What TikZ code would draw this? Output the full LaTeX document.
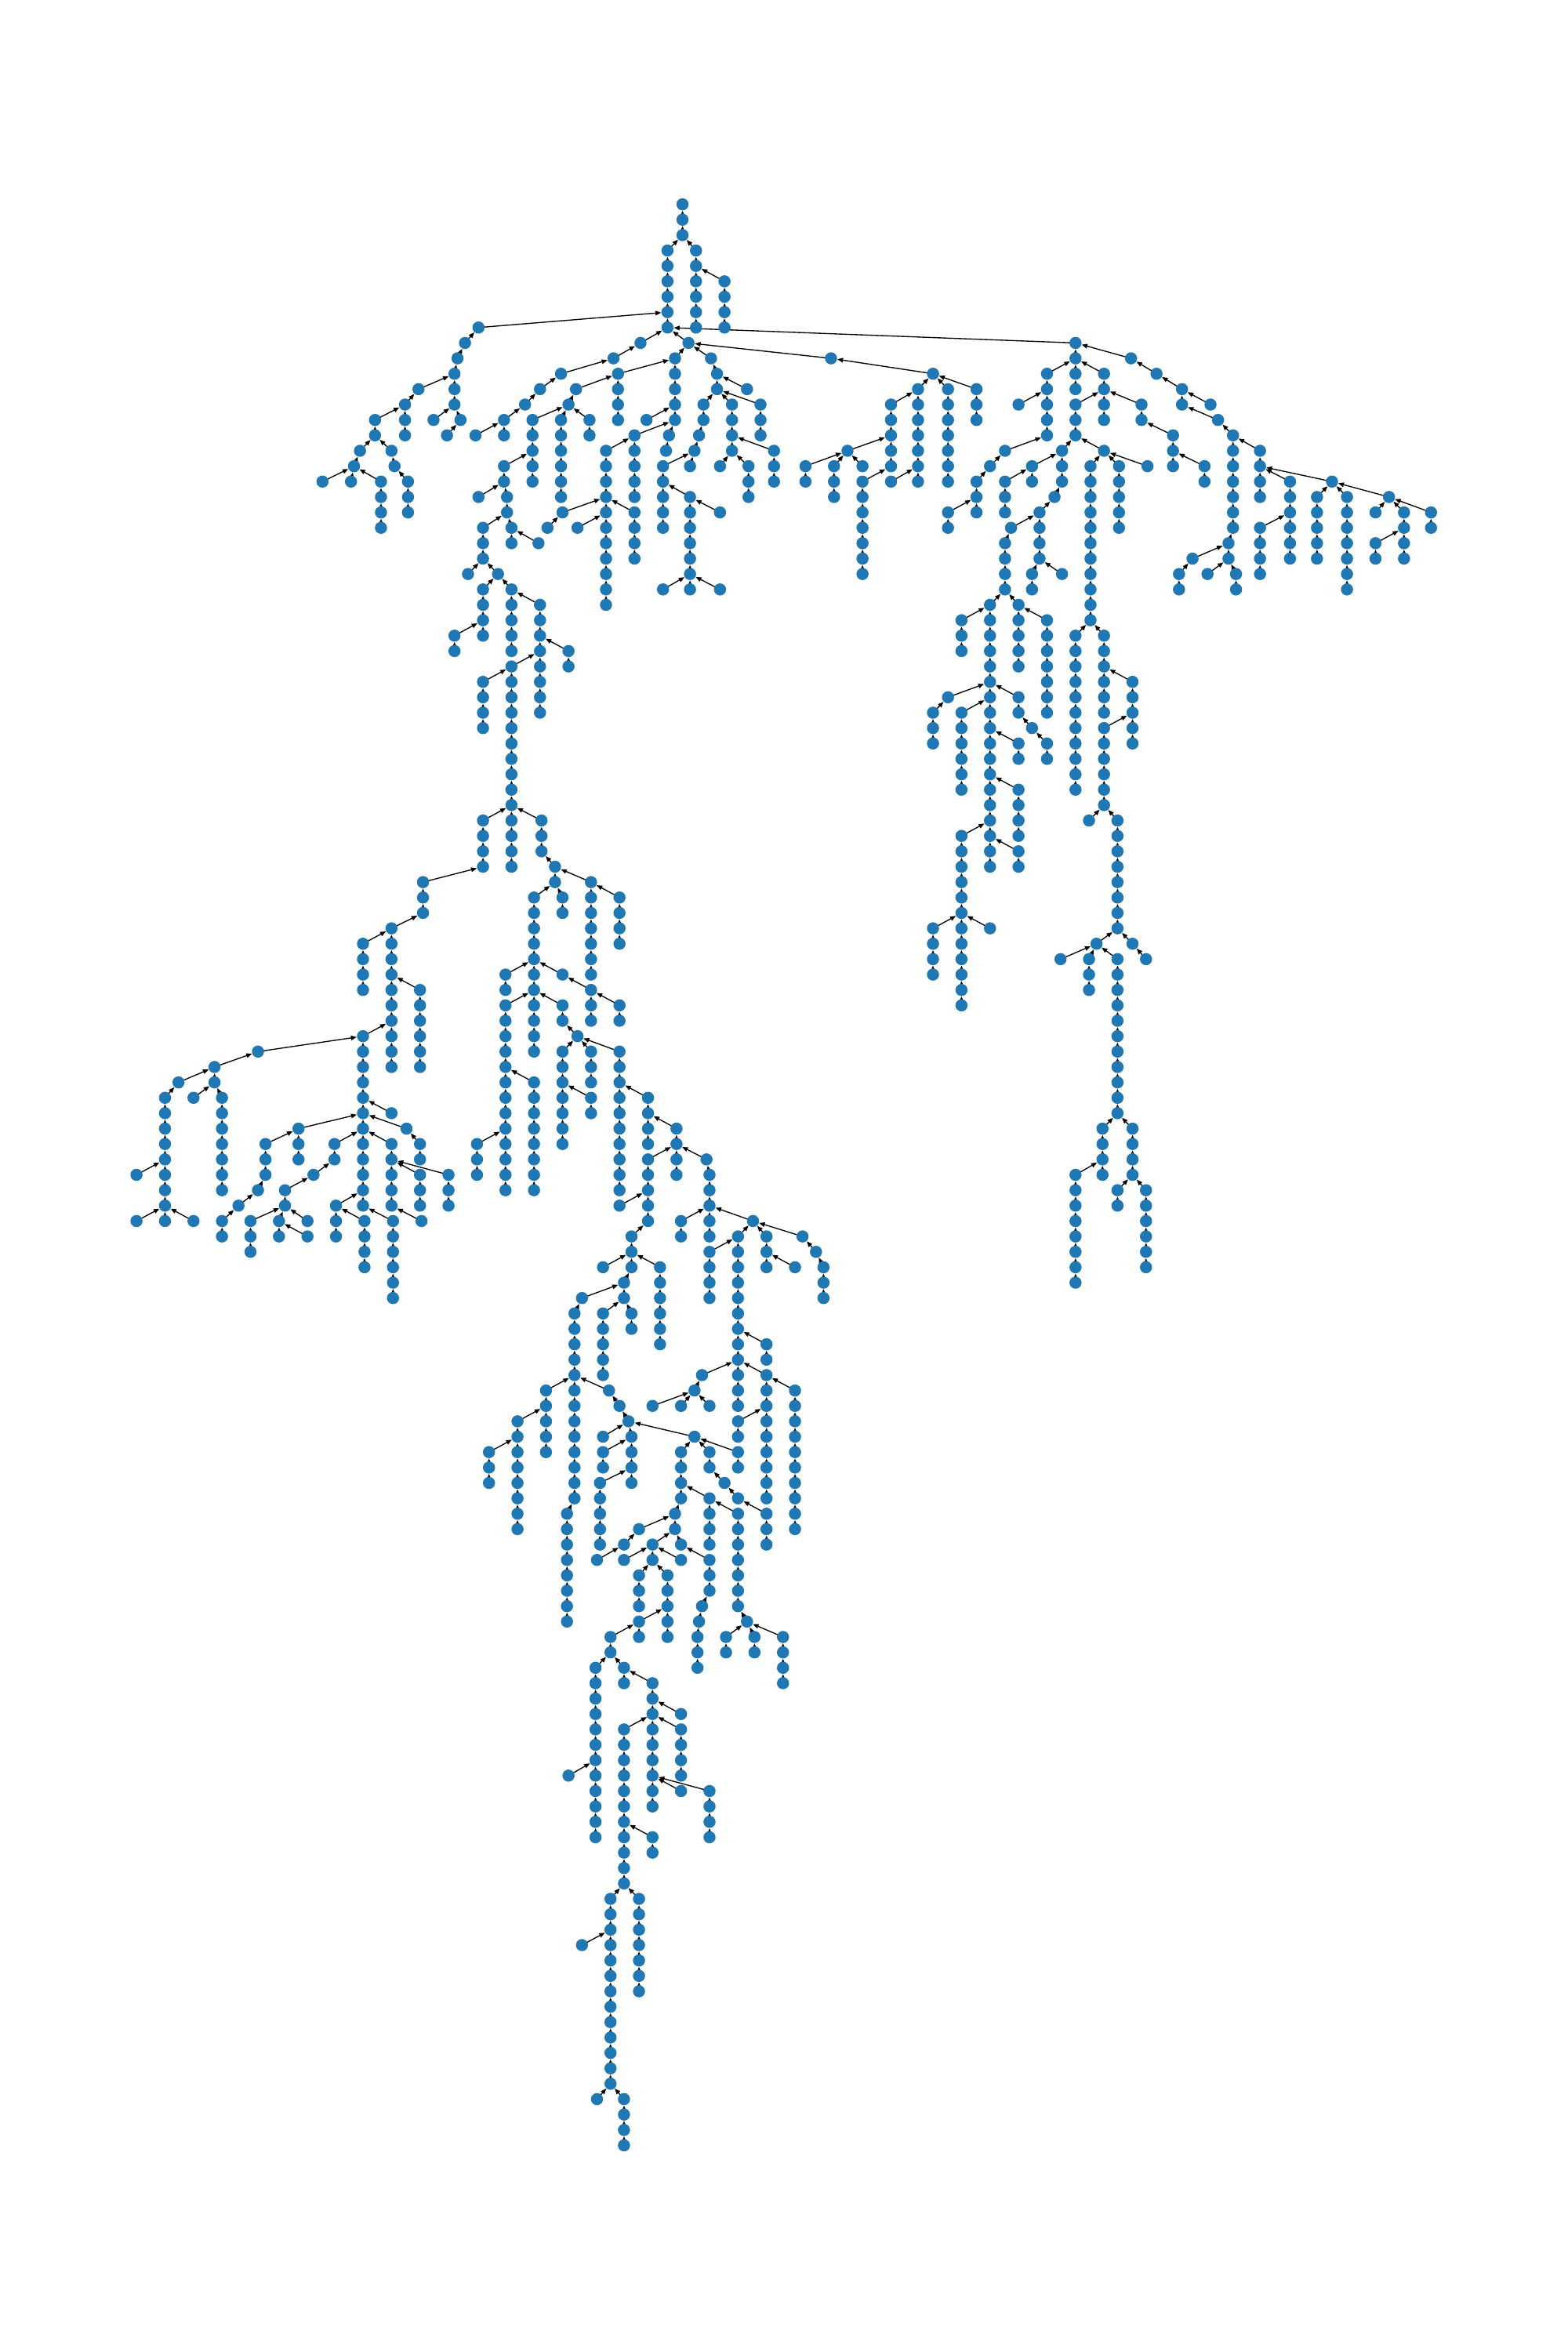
\documentclass[tikz,border=0pt]{standalone}
\usetikzlibrary{arrows.meta}
\definecolor{tabblue}{HTML}{1F77B4}
\pgfdeclarelayer{edges}
\pgfsetlayers{edges,main}
\tikzset{
  nd/.style={circle,fill=tabblue,draw=none,inner sep=0pt,minimum size=8.1pt},
  ar/.style={-{Triangle[length=3.8pt,width=3pt]},line width=0.7pt,black}
}
% x / first rank / last rank / parent x / parent rank
\def\chains{455/0/2/0/0,
445/3/8/455/2,
464/3/8/455/2,
483/5/8/464/4,
319/8/8/445/7,
310/9/9/319/8,
305/10/10/310/9,
303/11/13/305/10,
307/14/14/303/13,
298/15/15/307/14,
289/14/14/303/13,
279/12/12/303/11,
270/13/15/279/12,
250/14/15/270/13,
240/16/16/250/15,
261/16/16/250/15,
236/17/17/240/16,
263/17/17/261/16,
215/18/18/236/17,
234/18/18/236/17,
254/18/21/236/17,
272/18/20/263/17,
427/9/9/445/8,
409/10/10/427/9,
374/11/11/409/10,
360/12/12/374/11,
350/13/13/360/12,
336/14/15/350/13,
317/15/15/336/14,
459/9/9/445/8,
450/10/14/459/9,
446/15/15/450/14,
444/16/16/446/15,
474/10/10/459/9,
412/11/14/450/10,
384/12/12/412/11,
379/13/13/384/12,
355/14/18/379/13,
374/14/19/379/13,
393/14/15/379/13,
431/14/14/450/13,
423/15/19/450/14,
404/16/26/423/15,
423/20/23/404/19,
375/20/20/404/19,
365/21/21/375/20,
385/21/21/404/20,
336/17/18/355/16,
319/19/19/336/18,
338/19/20/336/18,
322/21/23/338/20,
341/21/22/338/20,
359/22/22/341/21,
312/24/24/322/23,
332/24/24/322/23,
322/25/28/332/24,
341/25/29/332/24,
360/26/33/341/25,
303/28/29/322/27,
379/29/30/360/28,
341/30/43/360/29,
322/31/34/341/30,
478/11/12/474/10,
498/12/12/478/11,
469/13/14/478/12,
488/13/16/478/12,
507/13/15/478/12,
466/15/15/469/14,
463/16/16/466/15,
516/16/18/488/15,
480/17/17/488/16,
499/17/19/488/16,
442/17/21/463/16,
460/17/17/463/16,
460/19/25/442/18,
480/20/20/460/19,
442/25/25/460/24,
480/25/25/460/24,
322/40/43/341/39,
361/40/42/341/39,
370/43/44/361/42,
394/44/50/370/43,
413/45/48/394/44,
356/45/55/370/44,
375/45/46/370/44,
337/50/51/356/49,
375/50/50/356/49,
394/51/53/375/50,
413/52/53/394/51,
337/52/64/356/51,
375/52/53/356/51,
385/54/54/375/53,
375/55/61/385/54,
394/55/57/385/54,
394/58/59/375/57,
413/55/64/385/54,
356/57/64/337/56,
318/61/63/337/60,
432/58/61/413/57,
451/60/63/432/59,
432/62/66/451/61,
413/65/65/432/64,
471/62/62/451/61,
473/63/67/471/62,
454/66/67/473/65,
502/66/66/473/65,
492/67/78/502/66,
511/67/69/502/66,
530/69/69/511/68,
535/67/67/502/66,
544/68/68/535/67,
549/69/71/544/68,
473/68/71/492/67,
421/67/69/432/66,
402/69/69/421/68,
440/69/74/421/68,
416/70/71/421/69,
388/71/71/416/70,
383/72/84/388/71,
402/72/76/416/71,
421/72/73/416/71,
511/74/75/492/73,
511/76/84/492/75,
468/76/76/492/75,
530/77/86/511/76,
463/77/77/468/76,
435/78/78/463/77,
454/78/78/463/77,
473/78/78/463/77,
492/79/80/511/78,
364/77/81/383/76,
406/77/77/383/76,
413/78/78/406/77,
419/79/79/413/78,
345/79/86/364/78,
326/81/83/345/80,
402/80/80/419/79,
421/80/83/419/79,
463/80/80/419/79,
402/81/82/421/80,
400/83/87/421/82,
492/81/82/463/80,
454/81/84/463/80,
473/81/82/463/80,
483/83/83/473/82,
492/84/84/483/83,
511/85/87/492/84,
473/84/87/454/83,
492/85/91/473/84,
498/92/92/492/91,
484/93/94/498/92,
503/93/94/498/92,
522/93/96/498/92,
450/85/86/454/84,
426/86/86/450/85,
416/87/87/426/86,
435/87/88/450/86,
454/87/87/450/86,
473/88/90/454/87,
468/91/91/473/90,
466/92/92/468/91,
465/93/95/466/92,
398/88/88/416/87,
416/88/88/435/87,
454/88/88/435/87,
426/89/91/435/88,
445/89/93/435/88,
426/92/93/445/91,
407/93/94/426/92,
378/85/92/383/84,
397/95/106/407/94,
416/95/96/407/94,
435/96/104/416/95,
454/98/98/435/97,
454/99/102/435/98,
416/99/109/435/98,
454/103/103/435/102,
473/103/106/435/102,
435/106/107/416/105,
379/102/102/397/101,
407/110/122/416/109,
426/110/116/416/109,
388/113/113/407/112,
398/123/123/407/122,
416/123/126/407/122,
717/9/12/445/8,
754/10/10/717/9,
698/11/15/717/10,
736/11/14/717/10,
679/13/13/698/12,
717/13/15/736/12,
761/13/14/736/12,
782/15/17/761/14,
803/17/18/782/16,
670/16/16/698/15,
660/17/17/670/16,
651/18/20/660/17,
632/20/21/651/19,
708/16/18/717/15,
736/16/16/717/15,
688/17/18/708/16,
670/18/20/688/17,
703/19/19/708/18,
693/20/23/703/19,
674/21/21/693/20,
670/22/25/674/21,
688/24/25/693/23,
708/24/24/693/23,
727/17/27/736/16,
746/17/21/736/16,
765/17/17/736/16,
717/28/38/727/27,
736/28/33/727/27,
755/31/35/736/30,
736/34/39/755/33,
726/40/40/736/39,
745/40/47/736/39,
731/48/48/745/47,
755/48/48/745/47,
707/49/49/731/48,
726/49/51/731/48,
745/49/59/731/48,
764/49/49/755/48,
735/60/63/745/59,
755/60/63/745/59,
717/63/70/735/62,
745/64/65/755/63,
764/64/69/755/63,
660/26/43/670/25,
679/26/30/670/25,
641/27/29/660/26,
698/27/33/679/26,
632/32/32/660/31,
622/33/35/632/32,
679/32/33/660/31,
688/34/34/679/33,
698/35/36/688/34,
641/33/38/660/32,
679/35/36/660/34,
679/38/41/660/37,
641/41/52/660/40,
679/42/43/660/41,
622/47/50/641/46,
660/47/47/641/46,
771/11/11/754/10,
788/12/13/771/11,
807/13/13/788/12,
812/14/14/788/13,
822/15/21/812/14,
819/22/23/822/21,
795/23/23/819/22,
786/24/25/795/23,
805/24/24/819/23,
824/24/25/819/23,
840/16/19/822/15,
860/18/23/840/17,
888/18/18/840/17,
840/21/24/860/20,
878/19/23/888/18,
898/19/25/888/18,
926/19/19/888/18,
917/20/20/926/19,
936/20/23/926/19,
954/20/21/926/19,
917/22/23/936/21,
554/10/10/459/9,
622/11/11/554/10,
612/12/18/622/11,
632/12/18/622/11,
651/12/14/622/11,
594/13/17/612/12,
565/16/16/594/15,
537/17/18/565/16,
556/17/19/565/16,
575/17/17/565/16,
575/18/24/594/17,
594/18/18/612/17,
282/44/46/322/43,
261/47/56/282/46,
280/51/56/261/50,
242/48/51/261/47,
242/54/65/261/53,
261/59/59/242/58,
271/60/60/242/59,
199/60/62/242/59,
223/61/62/242/60,
261/61/65/242/60,
280/61/62/271/60,
299/63/65/261/62,
280/63/65/261/62,
281/66/66/261/65,
224/65/67/242/64,
243/66/69/224/65,
262/66/71/242/65,
177/61/63/199/60,
172/64/64/177/63,
159/65/65/172/64,
148/66/67/159/65,
209/63/63/223/62,
190/64/65/209/63,
167/66/68/190/65,
186/66/67/190/65,
205/66/66/190/65,
205/67/67/186/66,
172/55/55/242/54,
143/56/57/172/55,
119/57/57/143/56,
110/58/66/119/57,
129/58/58/143/57,
148/58/64/143/57,
91/63/63/110/62,
91/66/66/110/65,
129/66/66/110/65}
\begin{document}
\begin{tikzpicture}[x=1pt,y=-1pt]
\useasboundingbox (0,0) rectangle (1045.33,1568);
\foreach \cx/\ca/\cb/\px/\pr in \chains {
  \foreach \r in {\ca,...,\cb} {
    \node[nd] (n\cx-\r) at (\cx,{136.2+10.27*\r}) {};
  }
}
\begin{pgfonlayer}{edges}
\foreach \cx/\ca/\cb/\px/\pr in \chains {
  \ifnum\cb>\ca
    \pgfmathtruncatemacro\cc{\ca+1}
    \foreach \r in {\cc,...,\cb} {
      \pgfmathtruncatemacro\q{\r-1}
      \draw[ar] (n\cx-\r.center) -- (n\cx-\q);
    }
  \fi
  \ifnum\px>0
    \draw[ar] (n\cx-\ca.center) -- (n\px-\pr);
  \fi
}
\end{pgfonlayer}
\end{tikzpicture}
\end{document}
